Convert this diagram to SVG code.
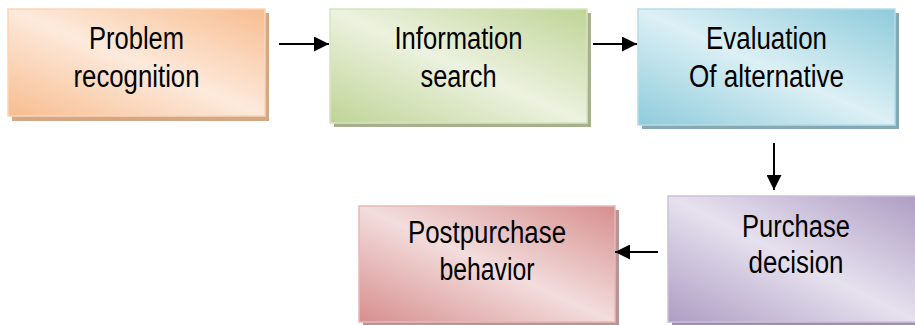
<svg xmlns="http://www.w3.org/2000/svg" width="915" height="325" viewBox="0 0 915 325">
  <style>
    .lbl { font-family: "Liberation Sans", Arial, sans-serif; font-size: 31px; fill: #000; text-anchor: middle; }
    .box { stroke-width: 1.5; }
    .conn { stroke: #000; stroke-width: 2; fill: none; marker-end: url(#head); }
  </style>
  <defs>
    <marker id="head" markerUnits="userSpaceOnUse" markerWidth="15" markerHeight="15" refX="15" refY="7.5" orient="auto">
      <path d="M0,0 L15,7.5 L0,15 z" fill="#000"/>
    </marker>
    <linearGradient id="gOrange" x1="0" y1="1" x2="1" y2="0">
      <stop offset="0" stop-color="#f7bd90"/>
      <stop offset="0.5" stop-color="#fdeadc"/>
      <stop offset="1" stop-color="#f7bd90"/>
    </linearGradient>
    <linearGradient id="gGreen" x1="0" y1="1" x2="1" y2="0">
      <stop offset="0" stop-color="#c0d497"/>
      <stop offset="0.5" stop-color="#ecf2df"/>
      <stop offset="1" stop-color="#c0d497"/>
    </linearGradient>
    <linearGradient id="gBlue" x1="0" y1="1" x2="1" y2="0">
      <stop offset="0" stop-color="#8ecbdb"/>
      <stop offset="0.5" stop-color="#dcf0f5"/>
      <stop offset="1" stop-color="#8ecbdb"/>
    </linearGradient>
    <linearGradient id="gPurple" x1="0" y1="1" x2="1" y2="0">
      <stop offset="0" stop-color="#ae9dc4"/>
      <stop offset="0.5" stop-color="#e6e1ee"/>
      <stop offset="1" stop-color="#ae9dc4"/>
    </linearGradient>
    <linearGradient id="gRed" x1="0" y1="1" x2="1" y2="0">
      <stop offset="0" stop-color="#d68f8e"/>
      <stop offset="0.5" stop-color="#f3dddd"/>
      <stop offset="1" stop-color="#d68f8e"/>
    </linearGradient>
  </defs>

  <g id="problem-recognition">
    <rect x="12" y="13" width="257" height="108" fill="#d4a785"/>
    <rect class="box" x="8" y="9" width="257" height="107" fill="url(#gOrange)" stroke="#fbd5b7"/>
    <text class="lbl" x="136.5" y="49" textLength="95" lengthAdjust="spacingAndGlyphs">Problem</text>
    <text class="lbl" x="136.5" y="87" textLength="126" lengthAdjust="spacingAndGlyphs">recognition</text>
  </g>

  <g id="information-search">
    <rect x="334" y="13" width="257" height="114" fill="#a6b08c"/>
    <rect class="box" x="330" y="9" width="257" height="114" fill="url(#gGreen)" stroke="#d8e4bf"/>
    <text class="lbl" x="458.5" y="49" textLength="128" lengthAdjust="spacingAndGlyphs">Information</text>
    <text class="lbl" x="458.5" y="87" textLength="76" lengthAdjust="spacingAndGlyphs">search</text>
  </g>

  <g id="evaluation">
    <rect x="642" y="13" width="257" height="116" fill="#85aab4"/>
    <rect class="box" x="638" y="9" width="257" height="116" fill="url(#gBlue)" stroke="#b6dde8"/>
    <text class="lbl" x="766.5" y="49" textLength="121" lengthAdjust="spacingAndGlyphs">Evaluation</text>
    <text class="lbl" x="766.5" y="87" textLength="155" lengthAdjust="spacingAndGlyphs">Of alternative</text>
  </g>

  <g id="purchase-decision">
    <rect x="672" y="200" width="250" height="126" fill="#9c90ab"/>
    <rect class="box" x="668" y="196" width="250" height="126" fill="url(#gPurple)" stroke="#ccc0da"/>
    <text class="lbl" x="796" y="237" textLength="108" lengthAdjust="spacingAndGlyphs">Purchase</text>
    <text class="lbl" x="796" y="273" textLength="95" lengthAdjust="spacingAndGlyphs">decision</text>
  </g>

  <g id="postpurchase-behavior">
    <rect x="363" y="210" width="256" height="116" fill="#b89595"/>
    <rect class="box" x="359" y="206" width="256" height="116" fill="url(#gRed)" stroke="#e6b9b8"/>
    <text class="lbl" x="487" y="243" textLength="158" lengthAdjust="spacingAndGlyphs">Postpurchase</text>
    <text class="lbl" x="487" y="280" textLength="95" lengthAdjust="spacingAndGlyphs">behavior</text>
  </g>

  <g id="connectors">
    <line class="conn" x1="279" y1="44" x2="329" y2="44"/>
    <line class="conn" x1="593" y1="44" x2="637" y2="44"/>
    <line class="conn" x1="774" y1="143" x2="774" y2="190"/>
    <line class="conn" x1="658" y1="252" x2="615" y2="252"/>
  </g>
</svg>
